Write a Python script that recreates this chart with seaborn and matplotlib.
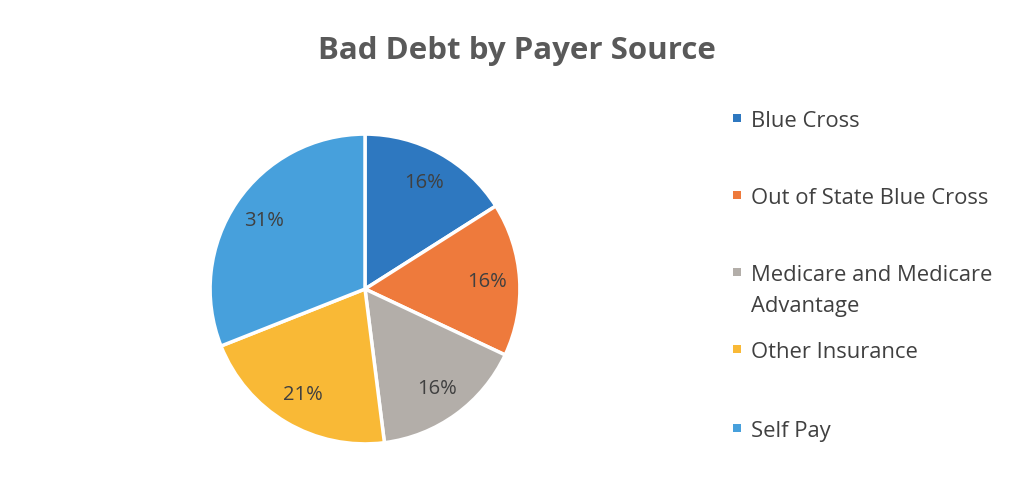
import matplotlib
matplotlib.use("Agg")
import matplotlib.pyplot as plt
import seaborn as sns
from matplotlib.patches import Rectangle

sns.set_theme(style="white")
plt.rcParams['font.family'] = ['Open Sans', 'DejaVu Sans']

# Data
categories = ["Blue Cross", "Out of State Blue Cross", "Medicare and Medicare\nAdvantage",
              "Other Insurance", "Self Pay"]
shares = [16, 16, 16, 21, 31]
colors = ["#2E78C0", "#EE7A3C", "#B3AEA9", "#F9B936", "#47A0DC"]

W, H = 1016, 502
fig = plt.figure(figsize=(W / 100, H / 100), dpi=100)
fig.patch.set_facecolor("white")

# pie axes: center (365, 290) px, radius 158 px
cx, cy, r = 365, 290, 158
ax = fig.add_axes([(cx - r) / W, (H - cy - r) / H, 2 * r / W, 2 * r / H])
wedges, texts, autotexts = ax.pie(
    shares, colors=colors, startangle=90, counterclock=False,
    autopct=lambda p: f"{p:.0f}%", pctdistance=0.79,
    wedgeprops=dict(edgecolor="white", linewidth=2.5),
    textprops=dict(color="#404040", fontsize=14.5))
ax.set_xlim(-1.02, 1.02)
ax.set_ylim(-1.02, 1.02)
ax.set_aspect("equal")
ax.axis("off")

fig.text(517 / W, 1 - 51 / H, "Bad Debt by Payer Source", ha="center", va="center",
         fontsize=22.5, fontweight="bold", color="#595959")

# legend (manual layout)
legend_y = [119, 196, 273, 350, 429]
for lab, col, y in zip(categories, colors, legend_y):
    fig.patches.append(Rectangle(((737 - 4) / W, 1 - (y + 4) / H), 8 / W, 8 / H,
                                 transform=fig.transFigure, facecolor=col, edgecolor="none"))
    for k, line in enumerate(lab.split("\n")):
        fig.text(751 / W, 1 - (y + 31 * k) / H, line, ha="left", va="center_baseline",
                 fontsize=15.8, color="#404040")

fig.savefig("out.png", dpi=100, facecolor="white")
